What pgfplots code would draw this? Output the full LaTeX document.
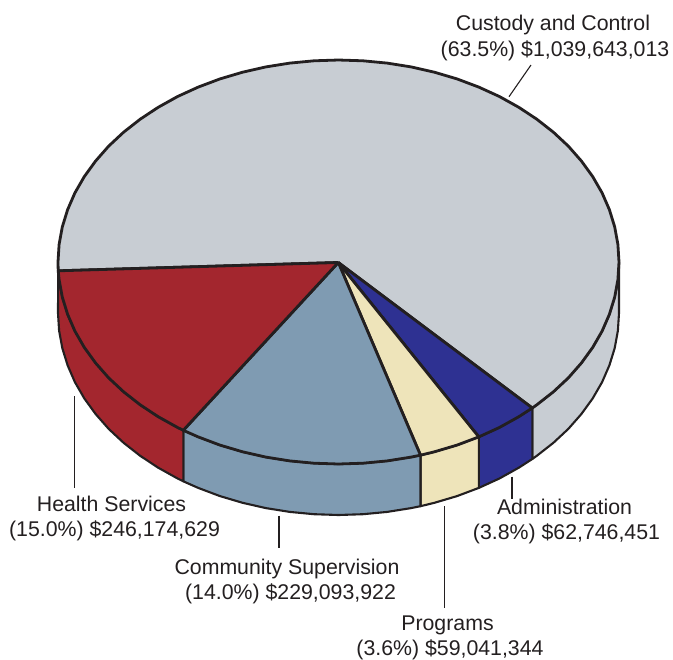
\documentclass[border=0pt]{standalone}
\usepackage{pgfplots}
\pgfplotsset{compat=1.18}
\usepackage{fontspec}
\setmainfont{Liberation Sans}
\definecolor{ink}{HTML}{231F20}
\definecolor{custody}{HTML}{C8CDD3}
\definecolor{health}{HTML}{A3262E}
\definecolor{community}{HTML}{7F9BB2}
\definecolor{programs}{HTML}{EEE4BA}
\definecolor{admin}{HTML}{2E3192}
\tikzset{lab/.style={font=\fontsize{21.3}{25}\selectfont, text=ink, inner sep=0pt, anchor=base}}
\begin{document}
\begin{tikzpicture}
\begin{axis}[
    scale only axis, width=673pt, height=658pt,
    xmin=0, xmax=673, ymin=0, ymax=658,
    y dir=reverse, hide axis, clip=false,
    side/.style={draw=ink, line width=2.1pt, line join=round, mark=none},
    top/.style={draw=ink, line width=2.8pt, line join=round, mark=none},
    leader/.style={draw=ink, line width=1.1pt, mark=none},
]
% sides
\addplot [side, fill=custody] coordinates {(619,262) (617.9,279.6) (614.7,297.1) (609.4,314.3) (602.1,331.1) (592.7,347.4) (581.4,363) (568.3,377.9) (553.4,391.8) (536.8,404.8) (532.3,408)
    (532.3,459) (536.8,455.8) (553.4,442.8) (568.3,428.9) (581.4,414) (592.7,398.4) (602.1,382.1) (609.4,365.3) (614.7,348.1) (617.9,330.6) (619,313) (619,262)};
\addplot [side, fill=admin] coordinates {(532.3,408) (518.8,416.7) (499.4,427.5) (478.8,436.9)
    (478.8,487.9) (499.4,478.5) (518.8,467.7) (532.3,459) (532.3,408)};
\addplot [side, fill=programs] coordinates {(478.8,436.9) (457,445.1) (434.4,451.8) (420.5,455.2)
    (420.5,506.2) (434.4,502.8) (457,496.1) (478.8,487.9) (478.8,436.9)};
\addplot [side, fill=community] coordinates {(420.5,455.2) (411.1,457.1) (387.2,460.9) (363,463.2) (338.5,464) (314,463.2) (289.8,460.9) (265.9,457.1) (242.6,451.8) (220,445.1) (198.2,436.9) (183.3,430.3)
    (183.3,481.3) (198.2,487.9) (220,496.1) (242.6,502.8) (265.9,508.1) (289.8,511.9) (314,514.2) (338.5,515) (363,514.2) (387.2,511.9) (411.1,508.1) (420.5,506.2) (420.5,455.2)};
\addplot [side, fill=health] coordinates {(183.3,430.3) (177.6,427.5) (158.2,416.7) (140.2,404.8) (123.6,391.8) (108.7,377.9) (95.6,363) (84.3,347.4) (74.9,331.1) (67.6,314.3) (62.3,297.1) (59.1,279.6) (58.2,270.8)
    (58,313) (59.1,330.6) (62.3,348.1) (67.6,365.3) (74.9,382.1) (84.3,398.4) (95.6,414) (108.7,428.9) (123.6,442.8) (140.2,455.8) (158.2,467.7) (177.6,478.5) (183.3,481.3) (183.3,430.3)};
% top face
\addplot [top, fill=custody] coordinates {(338.3,262.5) (532.3,408) (536.8,404.8) (553.4,391.8) (568.3,377.9) (581.4,363) (592.7,347.4) (602.1,331.1) (609.4,314.3) (614.7,297.1) (617.9,279.6) (619,262) (617.9,244.4) (614.7,226.9) (609.4,209.7) (602.1,192.9) (592.7,176.6) (581.4,161) (568.3,146.1) (553.4,132.2) (536.8,119.2) (518.8,107.3) (499.4,96.5) (478.8,87.1) (457,78.9) (434.4,72.2) (411.1,66.9) (387.2,63.1) (363,60.8) (338.5,60) (314,60.8) (289.8,63.1) (265.9,66.9) (242.6,72.2) (220,78.9) (198.2,87.1) (177.6,96.5) (158.2,107.3) (140.2,119.2) (123.6,132.2) (108.7,146.1) (95.6,161) (84.3,176.6) (74.9,192.9) (67.6,209.7) (62.3,226.9) (59.1,244.4) (58,262) (58.2,270.8) (338.3,262.5)};
\addplot [top, fill=admin] coordinates {(338.3,262.5) (532.3,408) (518.8,416.7) (499.4,427.5) (478.8,436.9) (338.3,262.5)};
\addplot [top, fill=programs] coordinates {(338.3,262.5) (478.8,436.9) (457,445.1) (434.4,451.8) (420.5,455.2) (338.3,262.5)};
\addplot [top, fill=community] coordinates {(338.3,262.5) (420.5,455.2) (411.1,457.1) (387.2,460.9) (363,463.2) (338.5,464) (314,463.2) (289.8,460.9) (265.9,457.1) (242.6,451.8) (220,445.1) (198.2,436.9) (183.3,430.3) (338.3,262.5)};
\addplot [top, fill=health] coordinates {(338.3,262.5) (183.3,430.3) (177.6,427.5) (158.2,416.7) (140.2,404.8) (123.6,391.8) (108.7,377.9) (95.6,363) (84.3,347.4) (74.9,331.1) (67.6,314.3) (62.3,297.1) (59.1,279.6) (58.2,270.8) (338.3,262.5)};
% leaders
\addplot [leader] coordinates {(531,65) (509,96.7)};
\addplot [leader] coordinates {(512,476.7) (512,499.3)};
\addplot [leader] coordinates {(444.2,506) (444.2,608)};
\addplot [leader] coordinates {(279,515.5) (279,548)};
\addplot [leader] coordinates {(74.7,396) (74.7,487.7)};
% labels
\node[lab] at (axis cs:553,30.5) {Custody and Control};
\node[lab] at (axis cs:555,56.5) {(63.5\%) \$1,039,643,013};
\node[lab] at (axis cs:564.5,514) {Administration};
\node[lab] at (axis cs:566.5,539.5) {(3.8\%) \$62,746,451};
\node[lab] at (axis cs:447.5,630) {Programs};
\node[lab] at (axis cs:450,655) {(3.6\%) \$59,041,344};
\node[lab] at (axis cs:287,574) {Community Supervision};
\node[lab] at (axis cs:290.5,599) {(14.0\%) \$229,093,922};
\node[lab] at (axis cs:111.5,511.7) {Health Services};
\node[lab] at (axis cs:114.5,536.7) {(15.0\%) \$246,174,629};
\end{axis}
\path (0,0) rectangle (673pt,658pt);
\end{tikzpicture}
\end{document}
